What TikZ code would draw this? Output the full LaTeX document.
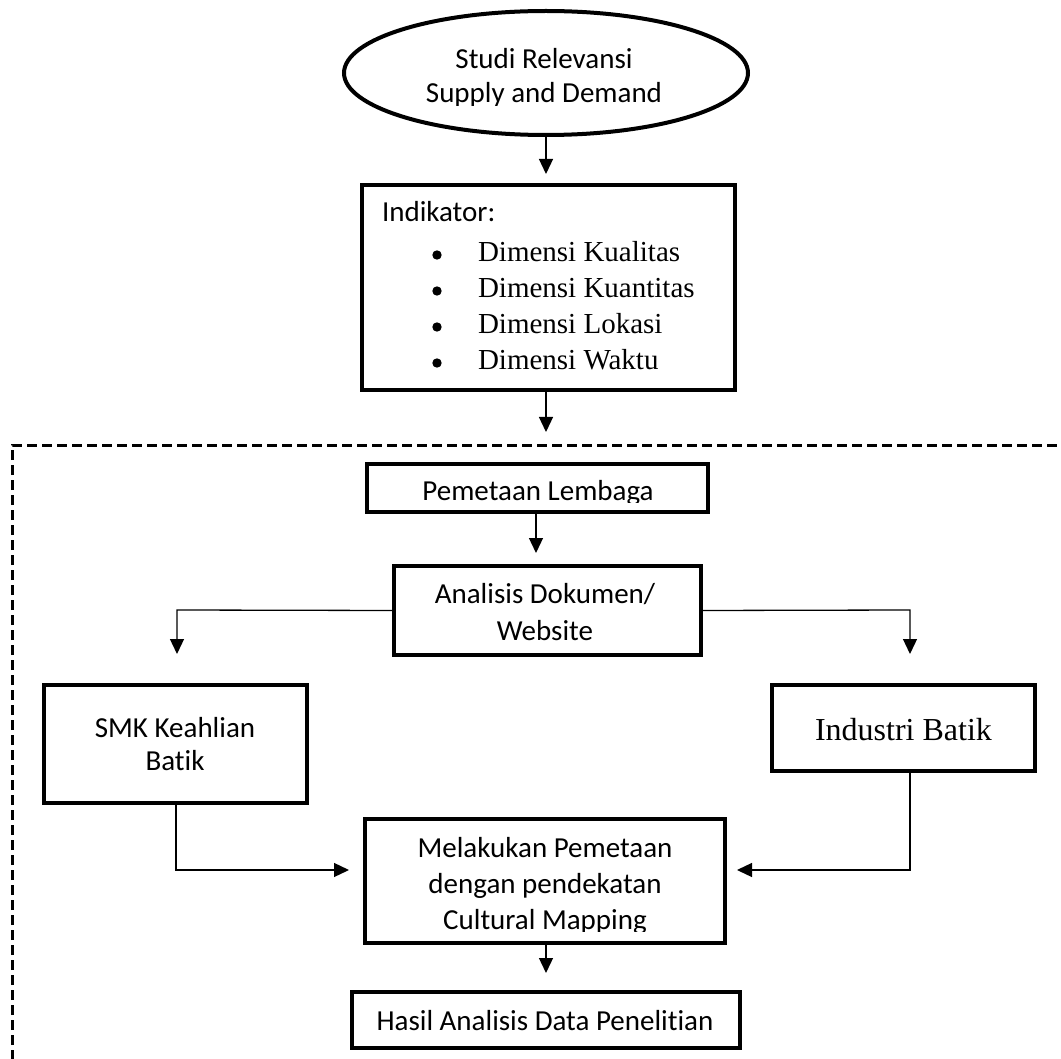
\documentclass[tikz,border=0pt]{standalone}
\usepackage{fontspec}
\setmainfont{Carlito}[Ligatures=NoCommon]
\newfontfamily\tmsfont{Liberation Serif}
\usetikzlibrary{arrows.meta,shapes.geometric}
\begin{document}
\begin{tikzpicture}[x=1pt,y=-1pt,
  boxstyle/.style={draw, line width=4pt, rectangle, inner sep=0pt, outer sep=0pt},
  ellstyle/.style={draw, line width=4pt, ellipse, inner sep=0pt, outer sep=0pt},
  conn/.style={line width=1.3pt, -{Triangle[length=15pt,width=14pt]}},
  frame/.style={line width=3pt, dash pattern=on 10pt off 5pt},
  cal/.style={font=\fontsize{29}{35}\selectfont, inner sep=0pt, outer sep=0pt, anchor=base},
  tms/.style={font=\tmsfont\fontsize{29}{35}\selectfont, inner sep=0pt, outer sep=0pt, anchor=base west},
  tmsbig/.style={font=\tmsfont\fontsize{32}{38}\selectfont, inner sep=0pt, outer sep=0pt, anchor=base}]
\useasboundingbox (0,0) rectangle (1061,1059);
\clip (0,0) rectangle (1061,1059);
\fill[white] (0,0) rectangle (1061,1059);

% dashed frame
\draw[frame] (12,1075) -- (12,445) -- (1075,445);

% shapes
\node[ellstyle, minimum width=404pt, minimum height=124pt] (ell) at (546,73) {};
\node[boxstyle, minimum width=373pt, minimum height=205pt] (ind) at (548.5,287.5) {};
\node[boxstyle, minimum width=341pt, minimum height=48pt] (pem) at (537.5,488) {};
\node[boxstyle, minimum width=307pt, minimum height=89pt] (ana) at (547.5,610.5) {};
\node[boxstyle, minimum width=263pt, minimum height=118pt] (smk) at (175.5,744) {};
\node[boxstyle, minimum width=263pt, minimum height=86pt] (indb) at (903.5,728) {};
\node[boxstyle, minimum width=360pt, minimum height=124pt] (mel) at (545,881) {};
\node[boxstyle, minimum width=388pt, minimum height=56pt] (has) at (546,1020) {};

% texts
\node[cal] (t1) at (544,69) {Studi Relevansi};
\begin{scope}
\clip (350,80) rectangle (740,106);
\node[cal] (t2) at (544,103) {Supply and Demand};
\end{scope}

\node[cal, anchor=base west] (t3) at (382,222) {Indikator:};
\fill (437,255) circle (4.7);
\fill (437,291) circle (4.7);
\fill (437,327) circle (4.7);
\fill (437,363) circle (4.7);
\node[tms] (b1) at (478,262) {Dimensi Kualitas};
\node[tms] (b2) at (478,298) {Dimensi Kuantitas};
\node[tms] (b3) at (478,334) {Dimensi Lokasi};
\node[tms] (b4) at (478,370) {Dimensi Waktu};

\begin{scope}
\clip (370,466) rectangle (705,502);
\node[cal] (t4) at (538,500) {Pemetaan Lembaga};
\end{scope}

\node[cal] (t5) at (545,603) {Analisis Dokumen/};
\node[cal] (t6) at (545,640) {Website};

\node[cal] (t7) at (175,737) {SMK Keahlian};
\node[cal] (t8) at (175,770) {Batik};

\node[tmsbig] (t9) at (903.5,740) {Industri Batik};

\node[cal] (t10) at (545,857) {Melakukan Pemetaan};
\node[cal] (t11) at (545,893) {dengan pendekatan};
\begin{scope}
\clip (367,900) rectangle (723,931);
\node[cal] (t12) at (545,929) {Cultural Mapping};
\end{scope}

\node[cal] (t13) at (545,1030) {Hasil Analisis Data Penelitian};

% connectors
\coordinate (a1) at (546,174);
\coordinate (a2) at (546,432);
\coordinate (a3) at (536,553);
\coordinate (l1) at (177,610);
\coordinate (l2) at (177,654);
\coordinate (r1) at (910,610);
\coordinate (r2) at (910,654);
\coordinate (s1) at (176,870);
\coordinate (s2) at (349,870);
\coordinate (i1) at (910,870);
\coordinate (i2) at (737,870);
\coordinate (m2) at (546,973);

\draw[conn] (ell.south) -- (a1);
\draw[conn] (ind.south -| a2) -- (a2);
\draw[conn] (pem.south -| a3) -- (a3);
\draw[conn] (ana.west) -- (l1) -- (l2);
\draw[conn] (ana.east) -- (r1) -- (r2);
\draw[conn] (smk.south -| s1) -- (s1) -- (s2);
\draw[conn] (indb.south -| i1) -- (i1) -- (i2);
\draw[conn] (mel.south -| m2) -- (m2);
\end{tikzpicture}
\end{document}
